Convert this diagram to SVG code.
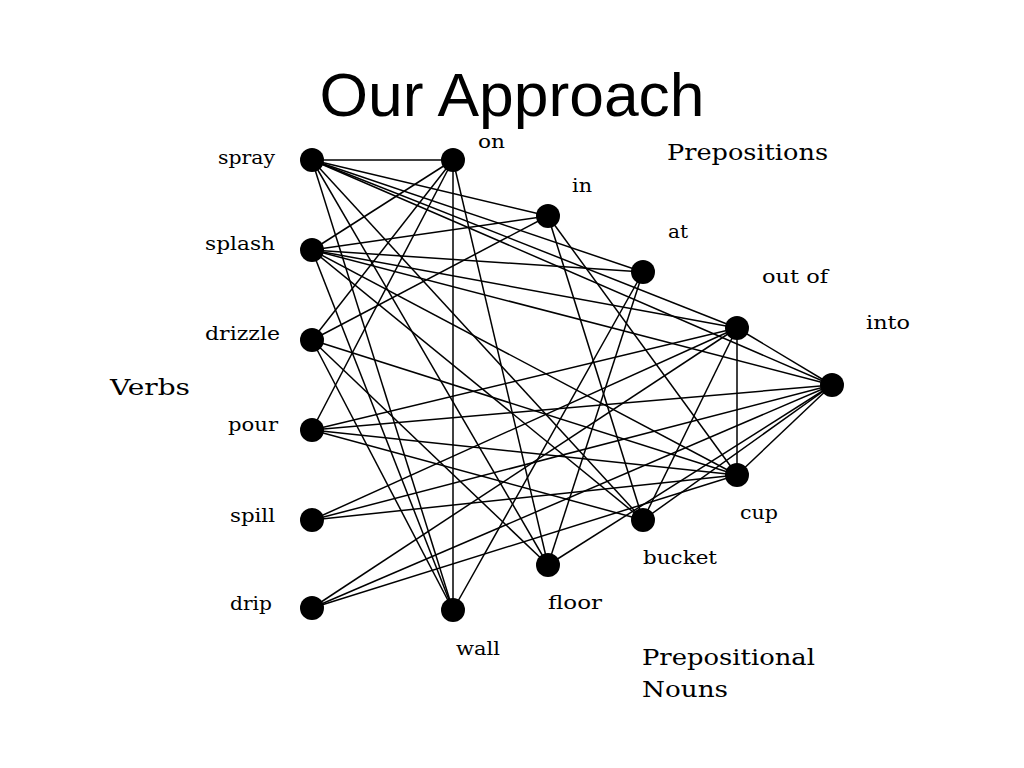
<svg xmlns="http://www.w3.org/2000/svg" width="1024" height="768" viewBox="0 0 1024 768">
<style>
.e{stroke:#000;stroke-width:1.5;fill:none}
.n{fill:#000}
.l{font-family:"DejaVu Serif","Liberation Serif",serif;font-size:19px;fill:#000}
.h{font-family:"DejaVu Serif","Liberation Serif",serif;font-size:23px;fill:#000}
.t{font-family:"Liberation Sans",Arial,sans-serif;font-size:62px;fill:#000}
</style>
<rect width="1024" height="768" fill="#fff"/>
<text class="t" x="512" y="116" text-anchor="middle" textLength="385" lengthAdjust="spacingAndGlyphs">Our Approach</text>
<text class="h" x="110" y="395" textLength="80" lengthAdjust="spacingAndGlyphs">Verbs</text>
<text class="h" x="667" y="160" textLength="161" lengthAdjust="spacingAndGlyphs">Prepositions</text>
<text class="h" x="642" y="665" textLength="173" lengthAdjust="spacingAndGlyphs">Prepositional</text>
<text class="h" x="642" y="697" textLength="86" lengthAdjust="spacingAndGlyphs">Nouns</text>
<g id="connectors">
<line class="e" x1="312" y1="160" x2="453" y2="160"/>
<line class="e" x1="312" y1="160" x2="548" y2="216"/>
<line class="e" x1="312" y1="160" x2="643" y2="272"/>
<line class="e" x1="312" y1="160" x2="737" y2="328"/>
<line class="e" x1="312" y1="160" x2="832" y2="385"/>
<line class="e" x1="312" y1="160" x2="453" y2="610"/>
<line class="e" x1="312" y1="160" x2="548" y2="565"/>
<line class="e" x1="312" y1="160" x2="643" y2="520"/>
<line class="e" x1="312" y1="250" x2="453" y2="160"/>
<line class="e" x1="312" y1="250" x2="548" y2="216"/>
<line class="e" x1="312" y1="250" x2="643" y2="272"/>
<line class="e" x1="312" y1="250" x2="737" y2="328"/>
<line class="e" x1="312" y1="250" x2="832" y2="385"/>
<line class="e" x1="312" y1="250" x2="453" y2="610"/>
<line class="e" x1="312" y1="250" x2="643" y2="520"/>
<line class="e" x1="312" y1="250" x2="737" y2="475"/>
<line class="e" x1="312" y1="340" x2="453" y2="160"/>
<line class="e" x1="312" y1="340" x2="548" y2="216"/>
<line class="e" x1="312" y1="340" x2="737" y2="475"/>
<line class="e" x1="312" y1="340" x2="548" y2="565"/>
<line class="e" x1="312" y1="340" x2="453" y2="610"/>
<line class="e" x1="312" y1="430" x2="453" y2="160"/>
<line class="e" x1="312" y1="430" x2="737" y2="328"/>
<line class="e" x1="312" y1="430" x2="832" y2="385"/>
<line class="e" x1="312" y1="430" x2="737" y2="475"/>
<line class="e" x1="312" y1="430" x2="643" y2="520"/>
<line class="e" x1="312" y1="520" x2="737" y2="328"/>
<line class="e" x1="312" y1="520" x2="832" y2="385"/>
<line class="e" x1="312" y1="520" x2="737" y2="475"/>
<line class="e" x1="312" y1="608" x2="737" y2="328"/>
<line class="e" x1="312" y1="608" x2="832" y2="385"/>
<line class="e" x1="312" y1="608" x2="737" y2="475"/>
<line class="e" x1="453" y1="160" x2="453" y2="610"/>
<line class="e" x1="453" y1="160" x2="548" y2="565"/>
<line class="e" x1="548" y1="216" x2="643" y2="520"/>
<line class="e" x1="548" y1="216" x2="737" y2="475"/>
<line class="e" x1="643" y1="272" x2="453" y2="610"/>
<line class="e" x1="643" y1="272" x2="548" y2="565"/>
<line class="e" x1="737" y1="328" x2="832" y2="385"/>
<line class="e" x1="737" y1="328" x2="737" y2="475"/>
<line class="e" x1="737" y1="328" x2="643" y2="520"/>
<line class="e" x1="832" y1="385" x2="737" y2="475"/>
<line class="e" x1="832" y1="385" x2="643" y2="520"/>
<line class="e" x1="832" y1="385" x2="548" y2="565"/>
</g>
<g id="spray"><circle class="n" cx="312" cy="160" r="12"/><text class="l" x="218" y="164" textLength="57" lengthAdjust="spacingAndGlyphs">spray</text></g>
<g id="splash"><circle class="n" cx="312" cy="250" r="12"/><text class="l" x="205" y="250" textLength="70" lengthAdjust="spacingAndGlyphs">splash</text></g>
<g id="drizzle"><circle class="n" cx="312" cy="340" r="12"/><text class="l" x="205" y="340" textLength="75" lengthAdjust="spacingAndGlyphs">drizzle</text></g>
<g id="pour"><circle class="n" cx="312" cy="430" r="12"/><text class="l" x="228" y="431" textLength="50" lengthAdjust="spacingAndGlyphs">pour</text></g>
<g id="spill"><circle class="n" cx="312" cy="520" r="12"/><text class="l" x="230" y="522" textLength="45" lengthAdjust="spacingAndGlyphs">spill</text></g>
<g id="drip"><circle class="n" cx="312" cy="608" r="12"/><text class="l" x="230" y="610" textLength="42" lengthAdjust="spacingAndGlyphs">drip</text></g>
<g id="on"><circle class="n" cx="453" cy="160" r="12"/><text class="l" x="478" y="148" textLength="27" lengthAdjust="spacingAndGlyphs">on</text></g>
<g id="in"><circle class="n" cx="548" cy="216" r="12"/><text class="l" x="572" y="192" textLength="20" lengthAdjust="spacingAndGlyphs">in</text></g>
<g id="at"><circle class="n" cx="643" cy="272" r="12"/><text class="l" x="668" y="238" textLength="20" lengthAdjust="spacingAndGlyphs">at</text></g>
<g id="out_of"><circle class="n" cx="737" cy="328" r="12"/><text class="l" x="762" y="283" textLength="66" lengthAdjust="spacingAndGlyphs">out of</text></g>
<g id="into"><circle class="n" cx="832" cy="385" r="12"/><text class="l" x="866" y="329" textLength="44" lengthAdjust="spacingAndGlyphs">into</text></g>
<g id="cup"><circle class="n" cx="737" cy="475" r="12"/><text class="l" x="740" y="519" textLength="38" lengthAdjust="spacingAndGlyphs">cup</text></g>
<g id="bucket"><circle class="n" cx="643" cy="520" r="12"/><text class="l" x="643" y="564" textLength="74" lengthAdjust="spacingAndGlyphs">bucket</text></g>
<g id="floor"><circle class="n" cx="548" cy="565" r="12"/><text class="l" x="548" y="609" textLength="54" lengthAdjust="spacingAndGlyphs">floor</text></g>
<g id="wall"><circle class="n" cx="453" cy="610" r="12"/><text class="l" x="456" y="655" textLength="44" lengthAdjust="spacingAndGlyphs">wall</text></g>
</svg>
